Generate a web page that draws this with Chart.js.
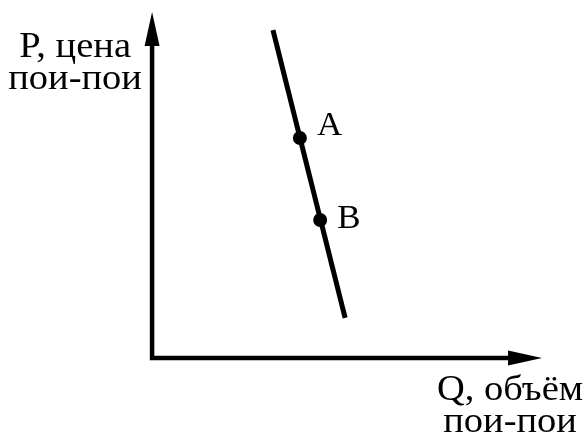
<!DOCTYPE html>
<html>
<head>
<meta charset="utf-8">
<script src="https://cdn.jsdelivr.net/npm/chart.js@4/dist/chart.umd.min.js"></script>
<style>
  body { margin: 0; background: #fff; }
  #wrap { width: 583px; height: 435px; }
</style>
</head>
<body>
<div id="wrap"><canvas id="chart" width="583" height="435"></canvas></div>
<script>
// кривая спроса (концы отрезка)
const demandQ = [3.10, 4.95];
const demandP = [9.48, 1.16];
// точки A и B на кривой
const pointNames = ['A', 'B'];
const pointQ = [3.79, 4.31];
const pointP = [6.36, 3.99];
// длина осей (в единицах)
const qAxisMax = 10;
const pAxisMax = 10;
// подписи осей
const yTitle = ['P, цена', 'пои-пои'];
const xTitle = ['Q, объём', 'пои-пои'];

const FONT = '"Liberation Serif", "Times New Roman", serif';

// текст, чуть растянутый по ширине (как в оригинале)
function wideText(ctx, text, x, y, sx) {
    ctx.save();
    ctx.translate(x, y);
    ctx.scale(sx, 1);
    ctx.fillText(text, 0, 0);
    ctx.restore();
}

// оси со стрелками + подписи
const axesPlugin = {
    id: 'econAxes',
    afterDatasetsDraw(chart) {
        const ctx = chart.ctx;
        const x = chart.scales.x, y = chart.scales.y;
        const x0 = x.getPixelForValue(0), y0 = y.getPixelForValue(0);
        const xEnd = x.getPixelForValue(qAxisMax), yEnd = y.getPixelForValue(pAxisMax);
        const headLen = 34, headW = 7.5;

        ctx.save();
        ctx.strokeStyle = '#000';
        ctx.fillStyle = '#000';
        ctx.lineWidth = 4.5;
        ctx.lineCap = 'butt';
        ctx.lineJoin = 'miter';
        ctx.beginPath();
        ctx.moveTo(x0, yEnd + headLen - 2);
        ctx.lineTo(x0, y0);
        ctx.lineTo(xEnd - headLen + 2, y0);
        ctx.stroke();

        // стрелка вверх
        ctx.beginPath();
        ctx.moveTo(x0, yEnd);
        ctx.lineTo(x0 - headW, yEnd + headLen);
        ctx.lineTo(x0 + headW, yEnd + headLen);
        ctx.closePath();
        ctx.fill();
        // стрелка вправо
        ctx.beginPath();
        ctx.moveTo(xEnd, y0);
        ctx.lineTo(xEnd - headLen, y0 - headW);
        ctx.lineTo(xEnd - headLen, y0 + headW);
        ctx.closePath();
        ctx.fill();

        // подписи осей
        ctx.font = '35px ' + FONT;
        ctx.textAlign = 'center';
        ctx.textBaseline = 'alphabetic';
        yTitle.forEach((t, i) => wideText(ctx, t, x0 - 77, yEnd + 45 + i * 32, 1.1));
        xTitle.forEach((t, i) => wideText(ctx, t, xEnd - 32, y0 + 42 + i * 32, 1.1));

        // подписи точек
        ctx.font = '33px ' + FONT;
        ctx.textAlign = 'left';
        const meta = chart.getDatasetMeta(1);
        const dy = [-3, 8];
        meta.data.forEach((pt, i) => {
            wideText(ctx, pointNames[i], pt.x + 17, pt.y + dy[i], 1.06);
        });
        ctx.restore();
    }
};

new Chart(document.getElementById('chart'), {
    type: 'scatter',
    data: {
        datasets: [{
            label: 'Спрос',
            data: demandQ.map((q, i) => ({ x: q, y: demandP[i] })),
            showLine: true,
            borderColor: '#000',
            borderWidth: 5,
            pointRadius: 0,
            fill: false
        }, {
            label: 'Точки',
            data: pointQ.map((q, i) => ({ x: q, y: pointP[i] })),
            showLine: false,
            backgroundColor: '#000',
            borderColor: '#000',
            pointRadius: 7,
            pointBorderWidth: 0
        }]
    },
    options: {
        responsive: false,
        animation: false,
        layout: { padding: 0, autoPadding: false },
        plugins: {
            legend: { display: false },
            tooltip: { enabled: false }
        },
        scales: {
            x: { type: 'linear', display: false, min: -3.9, max: 11.05 },
            y: { type: 'linear', display: false, min: -2.225, max: 10.35 }
        }
    },
    plugins: [axesPlugin]
});
</script>
</body>
</html>
